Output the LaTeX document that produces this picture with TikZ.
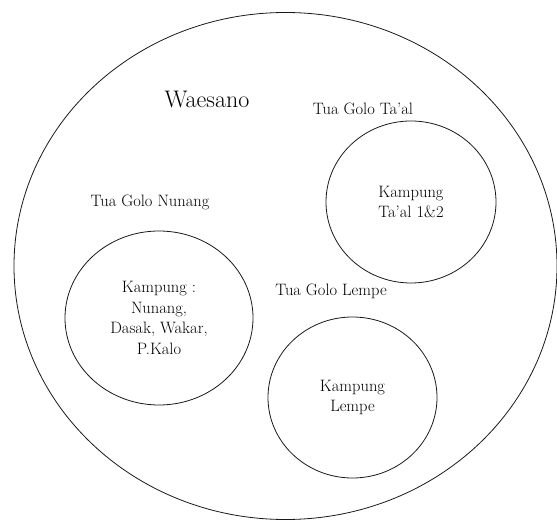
\documentclass[tikz,border=0pt]{standalone}
\usetikzlibrary{shapes.geometric}
\begin{document}
\begin{tikzpicture}[x=1pt,y=-1pt,
  ring/.style={draw=black!90, ellipse, line width=0.8pt, inner sep=0pt, align=center,
               font=\fontsize{16.5}{20.5}\selectfont, text=black},
  lbl/.style={font=\fontsize{16.5}{20.5}\selectfont, align=center, inner sep=0pt, text=black},
  titlelbl/.style={font=\fontsize{24}{28}\selectfont, inner sep=0pt, text=black}]
\useasboundingbox (0,0) rectangle (557,521);
\node[ring, minimum width=543pt, minimum height=507pt] (outer) at (285.5,266) {};
\node[titlelbl] (waesano) at (207,99) {Waesano};
\node[lbl] (tgtaal) at (363,109) {Tua Golo Ta’al};
\node[lbl] (tgnunang) at (150,202) {Tua Golo Nunang};
\node[lbl] (tglempe) at (331,291) {Tua Golo Lempe};
\node[ring, minimum width=170pt, minimum height=162pt] (taal) at (411,202)
  {Kampung\\Ta’al 1\&2};
\node[ring, minimum width=188pt, minimum height=174pt] (nunang) at (159,318)
  {Kampung :\\Nunang,\\Dasak, Wakar,\\P.Kalo};
\node[ring, minimum width=169pt, minimum height=161pt] (lempe) at (352.5,397.5)
  {Kampung\\Lempe};
\end{tikzpicture}
\end{document}
